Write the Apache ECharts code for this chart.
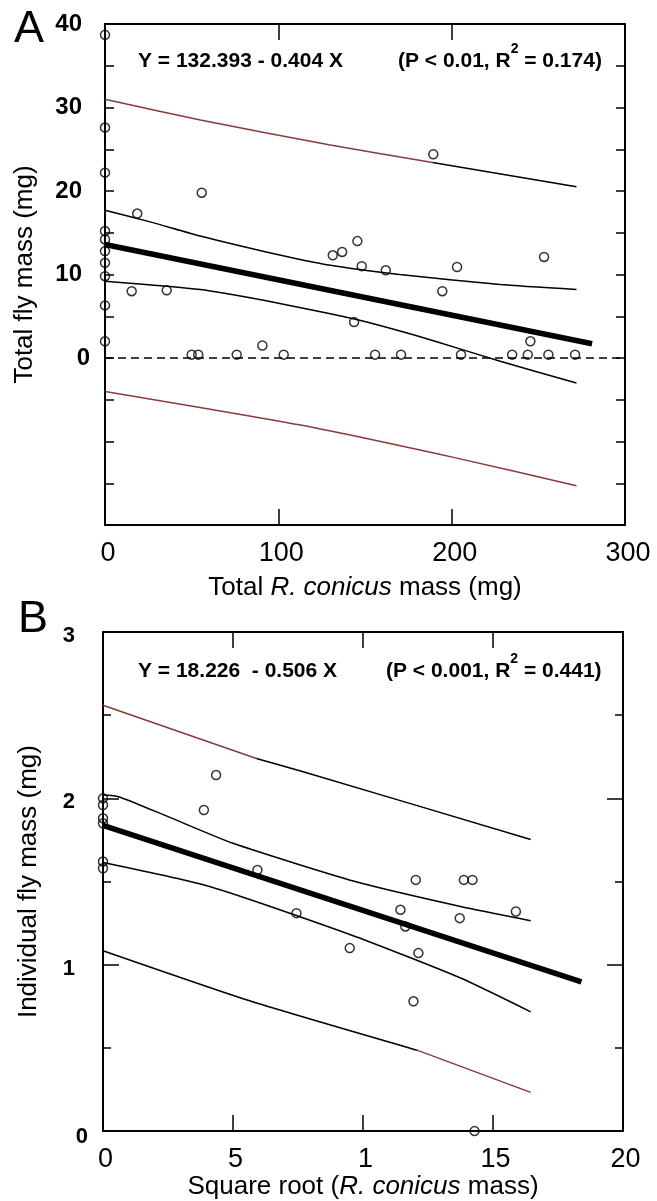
<!DOCTYPE html>
<html>
<head>
<meta charset="utf-8">
<script src="https://cdn.jsdelivr.net/npm/echarts@6/dist/echarts.min.js"></script>
<style>
  html, body { margin: 0; padding: 0; background: #fff; }
  #chart { width: 657px; height: 1201px; }
</style>
</head>
<body>
<div id="chart"></div>
<script>
// ---- panel A: total fly mass vs total R. conicus mass ----
const aMass = [0, 0, 0, 0, 0, 0, 0, 0, 0, 0,
  18.6, 55.8, 15.4, 35.6, 50, 53.8, 76, 90.8, 103.1, 131.4, 136.8, 145.6, 148.1, 162,
  143.7, 155.8, 170.8, 194.6, 203.1, 205.4, 234.9, 243.9, 245.4, 255.8, 253.3, 271.2, 189.4]
const aFly = [38.7, 27.6, 22.2, 15.2, 14.2, 12.8, 11.4, 9.8, 6.3, 2.0,
  17.3, 19.8, 8.0, 8.1, 0.4, 0.4, 0.4, 1.5, 0.4, 12.3, 12.7, 14.0, 11.0, 10.5,
  4.3, 0.4, 0.4, 8.0, 10.9, 0.4, 0.4, 0.4, 2.0, 0.4, 12.1, 0.4, 24.4]
const aFit = [[0, 13.6], [281, 1.7]]
const aCiUpper = [[0, 17.7], [26, 16.3], [55, 14.6], [93, 12.7], [130, 11.1], [170, 10.0], [228, 8.8], [272, 8.2]]
const aCiLower = [[0, 9.2], [55, 8.2], [93, 6.85], [130, 5.3], [151, 4.3], [189, 2.1], [228, -0.4], [272, -3.0]]
const aPiUpperBrown = [[0, 31.0], [55, 28.5], [130, 25.5], [189, 23.4]]
const aPiUpperBlack = [[189, 23.4], [272, 20.5]]
const aPiLower = [[0, -4.0], [112, -8.0], [201, -11.9], [272, -15.3]]
const aZero = [[0, 0], [300, 0]]
const aXTickLabels = ['0', '100', '200', '300']
const aYTickLabels = ['', '', '0', '10', '20', '30', '40'] // -20 .. 40

// ---- panel B: individual fly mass vs sqrt(R. conicus mass) ----
const bRoot = [0, 0, 0, 0, 0, 0,
  4.35, 3.88, 5.94, 7.44, 9.49, 11.44, 11.63, 12.03, 12.13, 11.94, 13.72, 13.88, 14.21, 15.88, 14.29]
const bFly = [2.0, 1.96, 1.88, 1.85, 1.62, 1.58,
  2.14, 1.93, 1.57, 1.31, 1.10, 1.33, 1.23, 1.51, 1.07, 0.78, 1.28, 1.51, 1.51, 1.32, 0.0]
const bFit = [[0, 1.837], [18.4, 0.897]]
const bCiUpper = [[0, 2.02], [0.6, 2.01], [2.5, 1.89], [5, 1.73], [9.7, 1.5], [13.75, 1.35], [16.45, 1.265]]
const bCiLower = [[0, 1.614], [4.1, 1.47], [9.7, 1.17], [13.75, 0.92], [16.45, 0.717]]
const bPiUpperBrown = [[0, 2.56], [5.9, 2.24]]
const bPiUpperBlack = [[5.9, 2.24], [7.6, 2.165], [16.45, 1.753]]
const bPiLowerBlack = [[0, 1.084], [5.7, 0.78], [12.1, 0.485]]
const bPiLowerBrown = [[12.1, 0.485], [16.45, 0.233]]
const bXTickLabels = ['0', '5', '1', '15', '20']
const bYTickLabels = ['0', '1', '2', '3']

const FONT = 'Liberation Sans, Arial, sans-serif'
const BROWN = '#8a3b3b'

const chart = echarts.init(document.getElementById('chart'))

function tickStyle(len) {
  return { show: true, inside: true, length: len, lineStyle: { color: '#000', width: 1.5 } }
}

function frameAxis(grid, pos, min, max, interval, tickLen, minor) {
  return {
    type: 'value', gridIndex: grid, position: pos, min, max, interval,
    axisLine: { onZero: false, lineStyle: { color: '#000', width: 2 } },
    axisTick: tickStyle(tickLen),
    minorTick: minor ? { show: true, splitNumber: 2, length: minor, lineStyle: { color: '#000', width: 1.5 } } : { show: false },
    axisLabel: { show: false },
    splitLine: { show: false }
  }
}

function line(data, color, width, ax, dashed) {
  return {
    type: 'line', data, xAxisIndex: ax, yAxisIndex: ax,
    symbol: 'none', showSymbol: false, silent: true, clip: false,
    smooth: data.length > 2 ? 0.2 : false,
    lineStyle: { color, width, type: dashed ? [8, 5] : 'solid' }
  }
}

function dots(xs, ys, ax) {
  return {
    type: 'scatter', xAxisIndex: ax, yAxisIndex: ax, clip: false, z: 5,
    data: xs.map((x, i) => [x, ys[i]]),
    symbol: 'circle', symbolSize: 9,
    itemStyle: { color: 'rgba(255,255,255,0)', borderColor: '#000', borderWidth: 1.5 }
  }
}

const nameStyle = {
  fontSize: 26, fontFamily: FONT, color: '#000',
  rich: { i: { fontSize: 26, fontFamily: FONT, fontStyle: 'italic', color: '#000' } }
}

// x axes: A bottom, A top, B bottom, B top
const xAxes = [
  Object.assign(frameAxis(0, 'bottom', 0, 300, 100, 16), {
    axisLabel: { show: true, margin: 15, fontSize: 27, fontFamily: FONT, color: '#000', padding: [0, 0, 0, 6],
      formatter: v => aXTickLabels[Math.round(v / 100)] },
    name: 'Total {i|R. conicus} mass (mg)', nameLocation: 'middle', nameGap: 50, nameTextStyle: nameStyle
  }),
  frameAxis(0, 'top', 0, 300, 100, 16),
  Object.assign(frameAxis(1, 'bottom', 0, 20, 5, 16), {
    axisLabel: { show: true, margin: 15, fontSize: 27, fontFamily: FONT, color: '#000', padding: [0, 0, 0, 5],
      formatter: v => bXTickLabels[Math.round(v / 5)] },
    name: 'Square root ({i|R. conicus} mass)', nameLocation: 'middle', nameGap: 39, nameTextStyle: nameStyle
  }),
  frameAxis(1, 'top', 0, 20, 5, 16)
]

// y axes: A left, A right, B left, B right
const yAxes = [
  Object.assign(frameAxis(0, 'left', -20, 40, 10, 9, 9), {
    axisLabel: { show: true, margin: 15, fontSize: 24, fontWeight: 'bold', fontFamily: FONT, color: '#000',
      formatter: v => { const t = aYTickLabels[Math.round((v + 20) / 10)]; return t === '' ? '' : (t === '0' ? '{z|0}' : '{n|' + t + '}') },
      rich: {
        n: { fontSize: 24, fontWeight: 'bold', fontFamily: FONT, color: '#000', padding: [0, 8, 0, 0] },
        z: { fontSize: 24, fontWeight: 'bold', fontFamily: FONT, color: '#000' }
      } },
    name: 'Total fly mass (mg)', nameLocation: 'middle', nameGap: 67, nameTextStyle: nameStyle
  }),
  frameAxis(0, 'right', -20, 40, 10, 9, 9),
  Object.assign(frameAxis(1, 'left', 0, 3, 1, 16, 8), {
    axisLabel: { show: true, margin: 15, fontSize: 22, fontWeight: 'bold', fontFamily: FONT, color: '#000',
      formatter: v => { const t = bYTickLabels[Math.round(v)]; return t === '0' ? '{z|0}' : '{n|' + t + '}' },
      rich: {
        n: { fontSize: 22, fontWeight: 'bold', fontFamily: FONT, color: '#000', padding: [8, 13, 0, 0] },
        z: { fontSize: 22, fontWeight: 'bold', fontFamily: FONT, color: '#000', padding: [12, 0, 0, 0] }
      } },
    name: 'Individual fly mass (mg)', nameLocation: 'middle', nameGap: 61, nameTextStyle: nameStyle
  }),
  frameAxis(1, 'right', 0, 3, 1, 16, 8)
]

const eqStyle = { fontSize: 21, fontWeight: 'bold', fontFamily: FONT, fill: '#000', verticalAlign: 'middle' }
const supRich = { s: { fontSize: 14, fontWeight: 'bold', fontFamily: FONT, fill: '#000', padding: [0, 0, 23, 0] } }

chart.setOption({
  animation: false,
  backgroundColor: '#fff',
  grid: [
    { left: 105, top: 24, width: 520, height: 501 },
    { left: 103, top: 632, width: 520, height: 502 }
  ],
  xAxis: xAxes,
  yAxis: yAxes,
  graphic: [
    { type: 'text', x: 14, y: 30, style: { text: 'A', fontSize: 45, fontFamily: FONT, fill: '#000', verticalAlign: 'middle' } },
    { type: 'text', x: 18, y: 620, style: { text: 'B', fontSize: 45, fontFamily: FONT, fill: '#000', verticalAlign: 'middle' } },
    { type: 'text', x: 138, y: 61, style: Object.assign({ text: 'Y = 132.393 - 0.404 X' }, eqStyle) },
    { type: 'text', x: 398, y: 61, style: Object.assign({ text: '(P < 0.01, R{s|2} = 0.174)', rich: supRich }, eqStyle) },
    { type: 'text', x: 138, y: 671, style: Object.assign({ text: 'Y = 18.226  - 0.506 X' }, eqStyle) },
    { type: 'text', x: 386, y: 671, style: Object.assign({ text: '(P < 0.001, R{s|2} = 0.441)', rich: supRich }, eqStyle) }
  ],
  series: [
    line(aZero, '#000', 1.5, 0, true),
    line(aPiUpperBrown, BROWN, 1.5, 0),
    line(aPiUpperBlack, '#000', 1.5, 0),
    line(aPiLower, BROWN, 1.5, 0),
    line(aCiUpper, '#000', 1.5, 0),
    line(aCiLower, '#000', 1.5, 0),
    line(aFit, '#000', 5.5, 0),
    dots(aMass, aFly, 0),

    line(bPiUpperBrown, BROWN, 1.5, 2),
    line(bPiUpperBlack, '#000', 1.5, 2),
    line(bPiLowerBlack, '#000', 1.5, 2),
    line(bPiLowerBrown, BROWN, 1.5, 2),
    line(bCiUpper, '#000', 1.5, 2),
    line(bCiLower, '#000', 1.5, 2),
    line(bFit, '#000', 5.5, 2),
    dots(bRoot, bFly, 2)
  ]
})
</script>
</body>
</html>
